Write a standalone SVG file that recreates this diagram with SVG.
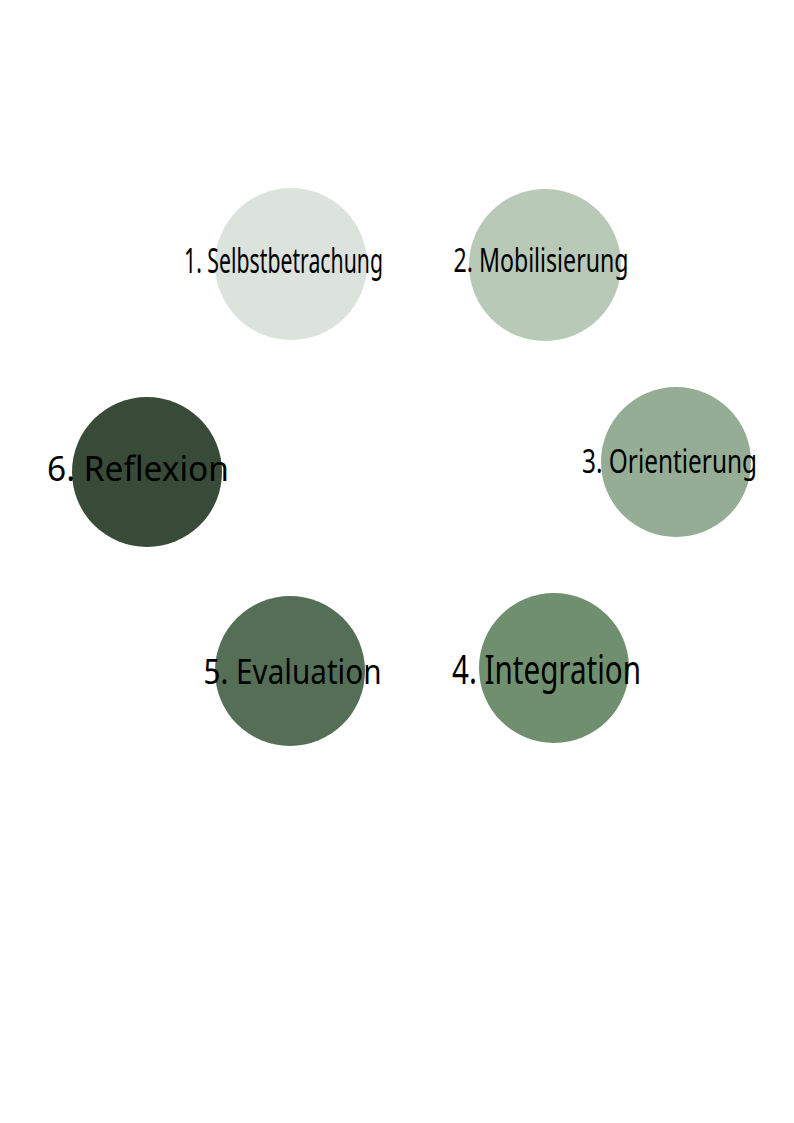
<svg xmlns="http://www.w3.org/2000/svg" width="794" height="1123" viewBox="0 0 794 1123">
<style>
.lbl{font-family:"Noto Sans","Open Sans",sans-serif;fill:#000;}
</style>
<rect width="794" height="1123" fill="#ffffff"/>
<g id="node1">
<circle cx="291" cy="264" r="76" fill="#dce3dc"/>
<text class="lbl" x="184" y="272.5" font-size="34" textLength="199" lengthAdjust="spacingAndGlyphs">1. Selbstbetrachung</text>
</g>
<g id="node2">
<circle cx="545" cy="265" r="76" fill="#b8c9b7"/>
<text class="lbl" x="453.5" y="271.5" font-size="32" textLength="175" lengthAdjust="spacingAndGlyphs">2. Mobilisierung</text>
</g>
<g id="node3">
<circle cx="676" cy="462" r="75" fill="#94ad94"/>
<text class="lbl" x="582" y="473" font-size="33" textLength="175" lengthAdjust="spacingAndGlyphs">3. Orientierung</text>
</g>
<g id="node4">
<circle cx="554" cy="668" r="75" fill="#6f8f6f"/>
<text class="lbl" x="452" y="684" font-size="40" textLength="189" lengthAdjust="spacingAndGlyphs">4. Integration</text>
</g>
<g id="node5">
<circle cx="290" cy="671" r="75" fill="#546f55"/>
<text class="lbl" x="203.5" y="684" font-size="35" textLength="178" lengthAdjust="spacingAndGlyphs">5. Evaluation</text>
</g>
<g id="node6">
<circle cx="147" cy="472" r="75" fill="#384a38"/>
<text class="lbl" x="47" y="480.5" font-size="34" textLength="182" lengthAdjust="spacingAndGlyphs">6. Reflexion</text>
</g>
<g id="connectors"></g>
</svg>
